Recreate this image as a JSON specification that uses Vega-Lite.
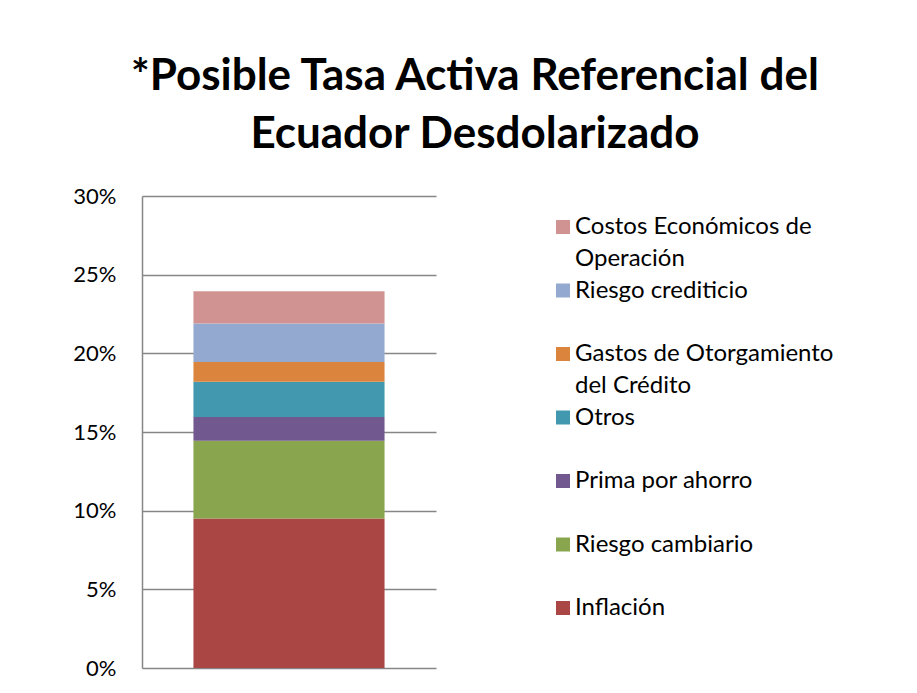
{
  "$schema": "https://vega.github.io/schema/vega-lite/v6.json",
  "autosize": {"type": "none"},
  "padding": {"left": 142, "top": 196, "right": 481, "bottom": 25},
  "width": 294,
  "height": 472,
  "background": "white",
  "title": {
    "text": ["*Posible Tasa Activa Referencial del", "Ecuador Desdolarizado"],
    "font": "Lato",
    "fontSize": 44,
    "fontWeight": "bold",
    "color": "#000000",
    "lineHeight": 58,
    "anchor": "middle",
    "frame": "bounds",
    "offset": 28,
    "dx": 12
  },
  "data": {
    "values": [
      {"grupo": "Tasa", "componente": "Inflación", "valor": 0.095, "orden": 1},
      {"grupo": "Tasa", "componente": "Riesgo cambiario", "valor": 0.0495, "orden": 2},
      {"grupo": "Tasa", "componente": "Prima por ahorro", "valor": 0.015, "orden": 3},
      {"grupo": "Tasa", "componente": "Otros", "valor": 0.0225, "orden": 4},
      {"grupo": "Tasa", "componente": "Gastos de Otorgamiento del Crédito", "valor": 0.0125, "orden": 5},
      {"grupo": "Tasa", "componente": "Riesgo crediticio", "valor": 0.0245, "orden": 6},
      {"grupo": "Tasa", "componente": "Costos Económicos de Operación", "valor": 0.0205, "orden": 7}
    ]
  },
  "mark": {"type": "bar"},
  "encoding": {
    "x": {
      "field": "grupo",
      "type": "nominal",
      "axis": null,
      "scale": {"paddingInner": 0.35, "paddingOuter": 0.175}
    },
    "y": {
      "field": "valor",
      "type": "quantitative",
      "stack": "zero",
      "scale": {"domain": [0, 0.3], "nice": false},
      "axis": {
        "values": [0, 0.05, 0.1, 0.15, 0.2, 0.25, 0.3],
        "format": ".0%",
        "title": null,
        "ticks": false,
        "labelPadding": 26,
        "labelFont": "Lato",
        "labelFontSize": 22,
        "labelColor": "#000000",
        "domainColor": "#868686",
        "domainWidth": 1.5,
        "gridColor": "#868686",
        "gridWidth": 1.5,
        "gridOpacity": 1
      }
    },
    "color": {
      "field": "componente",
      "type": "nominal",
      "scale": {
        "domain": [
          "Costos Económicos de Operación",
          "Riesgo crediticio",
          "Gastos de Otorgamiento del Crédito",
          "Otros",
          "Prima por ahorro",
          "Riesgo cambiario",
          "Inflación"
        ],
        "range": ["#D19392", "#93A9CF", "#DB843D", "#4198AF", "#71588F", "#89A54E", "#AA4643"]
      },
      "legend": {
        "title": null,
        "orient": "right",
        "offset": 96,
        "padding": 19,
        "symbolType": "square",
        "symbolSize": 196,
        "symbolStrokeWidth": 0,
        "labelFont": "Lato",
        "labelFontSize": 24,
        "labelColor": "#000000",
        "labelLimit": 500,
        "labelOffset": 0,
        "rowPadding": 7.5,
        "labelExpr": "datum.label === 'Costos Económicos de Operación' ? ['Costos Económicos de', 'Operación'] : datum.label === 'Gastos de Otorgamiento del Crédito' ? ['Gastos de Otorgamiento', 'del Crédito'] : [datum.label, '']",
        "encode": {
          "labels": {"update": {"lineHeight": {"value": 31.5}}}
        }
      }
    },
    "order": {"field": "orden", "type": "quantitative"}
  },
  "config": {"view": {"stroke": null}}
}
